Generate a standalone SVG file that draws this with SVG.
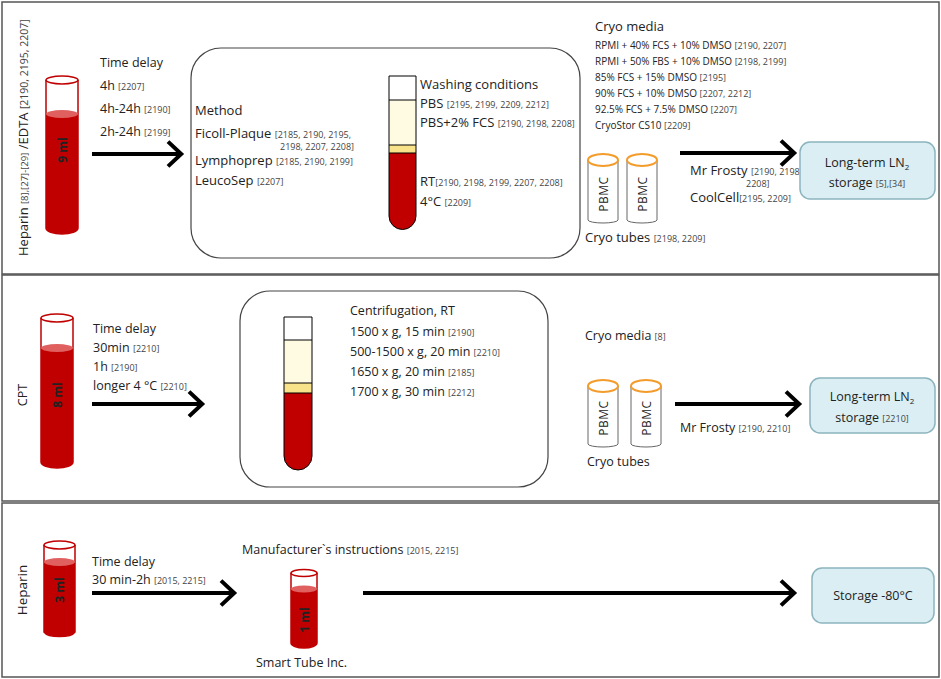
<svg xmlns="http://www.w3.org/2000/svg" width="941" height="679" viewBox="0 0 941 679">
<style>
text{font-family:"Open Sans","Liberation Sans",sans-serif;fill:#222}
.t{font-size:12.5px}.h{font-size:13px}.s{font-size:9px;fill:#444}.m{font-size:10px}
.panel{fill:#fff;stroke:#555;stroke-width:1.5}
.rbox{fill:#fff;stroke:#444;stroke-width:1.2}
.blue{fill:#daeef3;stroke:#8cb4be;stroke-width:1.5}
.arr{stroke:#000;stroke-width:4;fill:none;marker-end:url(#ah)}
.cryo{fill:#fff;stroke:#666;stroke-width:1}
.cryotop{fill:#fff;stroke:#f39c2b;stroke-width:2}
.vt{font-size:12px;font-weight:bold}
.pb{font-size:12px;letter-spacing:0.5px}
</style>
<defs>
<marker id="ah" markerWidth="6" markerHeight="8" refX="4" refY="3.5" orient="auto" markerUnits="strokeWidth">
<polyline points="0.5,0.4 3.8,3.5 0.5,6.6" fill="none" stroke="#000" stroke-width="1"/>
</marker>
<linearGradient id="pbmc" x1="0" y1="0" x2="0" y2="1"><stop offset="0" stop-color="#fff"/><stop offset="1" stop-color="#d6eef5"/></linearGradient>
</defs>
<rect x="0" y="0" width="941" height="679" fill="#fff"/>
<rect class="panel" x="2" y="2" width="937" height="272"/>
<rect class="panel" x="2" y="275" width="937" height="226"/>
<rect class="panel" x="2" y="503" width="937" height="174"/>

<g id="connectors">
<line class="arr" x1="92" y1="154" x2="182" y2="154"/>
<line class="arr" x1="425" y1="153" x2="572" y2="153"/>
<line class="arr" x1="680" y1="153" x2="795" y2="153"/>
<line class="arr" x1="92" y1="404" x2="203" y2="404"/>
<line class="arr" x1="338" y1="404" x2="543" y2="404"/>
<line class="arr" x1="675" y1="404" x2="800" y2="404"/>
<line class="arr" x1="92" y1="593" x2="235" y2="593"/>
<line class="arr" x1="363" y1="593" x2="795" y2="593"/>
</g>

<g id="p1-label"><text font-size="13" transform="translate(28,256) rotate(-90)">Heparin <tspan font-size="9.5" fill="#444">[8],[27]-[29]</tspan> /EDTA <tspan font-size="10.5" fill="#444">[2190, 2195, 2207]</tspan></text></g>
<g id="p1-tube">
<path d="M46,80 V228 a16,6 0 0 0 32,0 V80" fill="none" stroke="#c00000" stroke-width="1.5"/>
<path d="M46,114 V228 a16,6 0 0 0 32,0 V114 Z" fill="#c00000"/>
<ellipse cx="62" cy="114" rx="16" ry="4" fill="#e06060"/>
<ellipse cx="62" cy="80" rx="16" ry="4" fill="none" stroke="#c00000" stroke-width="1.5"/>
<text class="vt" transform="translate(67,150) rotate(-90)" text-anchor="middle">9 ml</text>
</g>
<g id="p1-delay">
<text class="t" x="100" y="67">Time delay</text>
<text class="t" x="100" y="90">4h <tspan class="s">[2207]</tspan></text>
<text class="t" x="100" y="113">4h-24h <tspan class="s">[2190]</tspan></text>
<text class="t" x="100" y="136">2h-24h <tspan class="s">[2199]</tspan></text>
</g>
<g id="p1-method">
<rect class="rbox" x="191" y="48" width="389" height="210" rx="30"/>
<text class="h" x="195" y="115">Method</text>
<text class="h" x="195" y="138">Ficoll-Plaque <tspan class="s">[2185, 2190, 2195,</tspan></text>
<text class="s" x="280" y="150">2198, 2207, 2208]</text>
<text class="h" x="195" y="165">Lymphoprep <tspan class="s">[2185, 2190, 2199]</tspan></text>
<text class="h" x="195" y="185">LeucoSep <tspan class="s">[2207]</tspan></text>
<path d="M389,76 H416 V216 a13.5,13.5 0 0 1 -27,0 Z" fill="#fff"/>
<rect x="389" y="100" width="27" height="45" fill="#fffbe3"/>
<rect x="389" y="145" width="27" height="8" fill="#f8e28a"/>
<path d="M389,153 H416 V216 a13.5,13.5 0 0 1 -27,0 Z" fill="#c00000"/>
<path d="M389,76 H416 V216 a13.5,13.5 0 0 1 -27,0 Z M389,100 H416 M389,145 H416 M389,153 H416" fill="none" stroke="#000" stroke-width="1"/>
<text class="h" x="420" y="89">Washing conditions</text>
<text class="h" x="420" y="108">PBS <tspan class="s">[2195, 2199, 2209, 2212]</tspan></text>
<text class="h" x="420" y="127">PBS+2% FCS <tspan class="s">[2190, 2198, 2208]</tspan></text>
<text class="h" x="420" y="186">RT<tspan class="s">[2190, 2198,  2199,  2207, 2208]</tspan></text>
<text class="h" x="420" y="206">4°C <tspan class="s">[2209]</tspan></text>
</g>
<g id="p1-cryo">
<text class="h" x="595" y="31">Cryo media</text>
<text class="m" x="595" y="49">RPMI + 40% FCS + 10% DMSO <tspan class="s">[2190, 2207]</tspan></text>
<text class="m" x="595" y="65">RPMI + 50% FBS + 10% DMSO <tspan class="s">[2198, 2199]</tspan></text>
<text class="m" x="595" y="81">85% FCS + 15% DMSO <tspan class="s">[2195]</tspan></text>
<text class="m" x="595" y="97">90% FCS + 10% DMSO <tspan class="s">[2207, 2212]</tspan></text>
<text class="m" x="595" y="113">92.5% FCS + 7.5% DMSO <tspan class="s">[2207]</tspan></text>
<text class="m" x="595" y="129">CryoStor CS10 <tspan class="s">[2209]</tspan></text>
<path class="cryo" d="M588,160 V220 a15,3 0 0 0 30,0 V160" fill="url(#pbmc)"/>
<ellipse class="cryotop" cx="603" cy="160" rx="15" ry="6"/>
<path class="cryo" d="M627,160 V220 a15,3 0 0 0 30,0 V160" fill="url(#pbmc)"/>
<ellipse class="cryotop" cx="642" cy="160" rx="15" ry="6"/>
<text class="pb" transform="translate(608,194) rotate(-90)" text-anchor="middle">PBMC</text>
<text class="pb" transform="translate(647,194) rotate(-90)" text-anchor="middle">PBMC</text>
<text class="h" x="585" y="242">Cryo tubes <tspan class="s">[2198, 2209]</tspan></text>
</g>
<g id="p1-freeze">
<text class="h" x="690" y="175">Mr Frosty <tspan class="s">[2190, 2198,</tspan></text>
<text class="s" x="746" y="187">2208]</text>
<text class="h" x="690" y="202">CoolCell<tspan class="s">[2195, 2209]</tspan></text>
</g>
<g id="p1-storage">
<rect class="blue" x="800" y="142" width="135" height="57" rx="10"/>
<text class="t" x="867" y="167" text-anchor="middle">Long-term LN<tspan font-size="8" dy="3">2</tspan></text>
<text class="t" x="867" y="187" text-anchor="middle">storage <tspan class="s">[5],[34]</tspan></text>
</g>

<g id="p2-label"><text class="t" transform="translate(27,395) rotate(-90)" text-anchor="middle">CPT</text></g>
<g id="p2-tube">
<path d="M41,318 V462 a16,6 0 0 0 32,0 V318" fill="none" stroke="#c00000" stroke-width="1.5"/>
<path d="M41,348 V462 a16,6 0 0 0 32,0 V348 Z" fill="#c00000"/>
<ellipse cx="57" cy="348" rx="16" ry="4" fill="#e06060"/>
<ellipse cx="57" cy="318" rx="16" ry="4" fill="none" stroke="#c00000" stroke-width="1.5"/>
<text class="vt" transform="translate(62,395) rotate(-90)" text-anchor="middle">8 ml</text>
</g>
<g id="p2-delay">
<text class="t" x="93" y="333">Time delay</text>
<text class="t" x="93" y="352">30min <tspan class="s">[2210]</tspan></text>
<text class="t" x="93" y="371">1h <tspan class="s">[2190]</tspan></text>
<text class="t" x="93" y="390">longer 4 °C <tspan class="s">[2210]</tspan></text>
</g>
<g id="p2-centri">
<rect class="rbox" x="240" y="291" width="308" height="196" rx="30"/>
<path d="M284,317 H312 V456 a14,14 0 0 1 -28,0 Z" fill="#fff"/>
<rect x="284" y="340" width="28" height="43" fill="#fffbe3"/>
<rect x="284" y="383" width="28" height="10" fill="#f8e28a"/>
<path d="M284,393 H312 V456 a14,14 0 0 1 -28,0 Z" fill="#c00000"/>
<path d="M284,317 H312 V456 a14,14 0 0 1 -28,0 Z M284,340 H312 M284,383 H312 M284,393 H312" fill="none" stroke="#000" stroke-width="1"/>
<text class="t" x="350" y="315">Centrifugation, RT</text>
<text class="t" x="350" y="336">1500 x g, 15 min <tspan class="s">[2190]</tspan></text>
<text class="t" x="350" y="356">500-1500 x g, 20 min <tspan class="s">[2210]</tspan></text>
<text class="t" x="350" y="376">1650 x g, 20 min <tspan class="s">[2185]</tspan></text>
<text class="t" x="350" y="396">1700 x g, 30 min <tspan class="s">[2212]</tspan></text>
</g>
<g id="p2-cryo">
<text class="t" x="585" y="340">Cryo media <tspan class="s">[8]</tspan></text>
<path class="cryo" d="M588,386 V444 a15,3 0 0 0 30,0 V386" fill="url(#pbmc)"/>
<ellipse class="cryotop" cx="603" cy="386" rx="15" ry="6"/>
<path class="cryo" d="M631,386 V444 a15,3 0 0 0 30,0 V386" fill="url(#pbmc)"/>
<ellipse class="cryotop" cx="646" cy="386" rx="15" ry="6"/>
<text class="pb" transform="translate(608,418) rotate(-90)" text-anchor="middle">PBMC</text>
<text class="pb" transform="translate(651,418) rotate(-90)" text-anchor="middle">PBMC</text>
<text class="t" x="587" y="466">Cryo tubes</text>
</g>
<g id="p2-freeze"><text class="t" x="680" y="432">Mr Frosty <tspan class="s">[2190, 2210]</tspan></text></g>
<g id="p2-storage">
<rect class="blue" x="810" y="378" width="125" height="55" rx="10"/>
<text class="t" x="872" y="401" text-anchor="middle">Long-term LN<tspan font-size="8" dy="3">2</tspan></text>
<text class="t" x="872" y="422" text-anchor="middle">storage <tspan class="s">[2210]</tspan></text>
</g>

<g id="p3-label"><text font-size="13.5" transform="translate(27,590) rotate(-90)" text-anchor="middle">Heparin</text></g>
<g id="p3-tube">
<path d="M44,545 V632 a16,6 0 0 0 31,0 V545" fill="none" stroke="#c00000" stroke-width="1.5"/>
<path d="M44,562 V632 a16,6 0 0 0 31,0 V562 Z" fill="#c00000"/>
<ellipse cx="59.5" cy="562" rx="15.5" ry="4" fill="#e06060"/>
<ellipse cx="59.5" cy="545" rx="15.5" ry="4" fill="none" stroke="#c00000" stroke-width="1.5"/>
<text class="vt" transform="translate(64,590) rotate(-90)" text-anchor="middle">3 ml</text>
</g>
<g id="p3-delay">
<text class="t" x="92" y="566">Time delay</text>
<text class="t" x="92" y="584">30 min-2h <tspan class="s">[2015, 2215]</tspan></text>
</g>
<g id="p3-smart">
<text class="t" x="242" y="554">Manufacturer`s instructions <tspan class="s">[2015, 2215]</tspan></text>
<path d="M291,573 V643 a13,5 0 0 0 26,0 V573" fill="none" stroke="#c00000" stroke-width="1.5"/>
<path d="M291,589 V643 a13,5 0 0 0 26,0 V589 Z" fill="#c00000"/>
<ellipse cx="304" cy="589" rx="13" ry="3.5" fill="#e06060"/>
<ellipse cx="304" cy="573" rx="13" ry="3.5" fill="none" stroke="#c00000" stroke-width="1.5"/>
<text class="vt" transform="translate(309,620) rotate(-90)" text-anchor="middle">1 ml</text>
<text class="t" x="256" y="667">Smart Tube Inc.</text>
</g>
<g id="p3-storage">
<rect class="blue" x="812" y="568" width="122" height="55" rx="10"/>
<text class="t" x="873" y="600" text-anchor="middle">Storage -80°C</text>
</g>
</svg>
